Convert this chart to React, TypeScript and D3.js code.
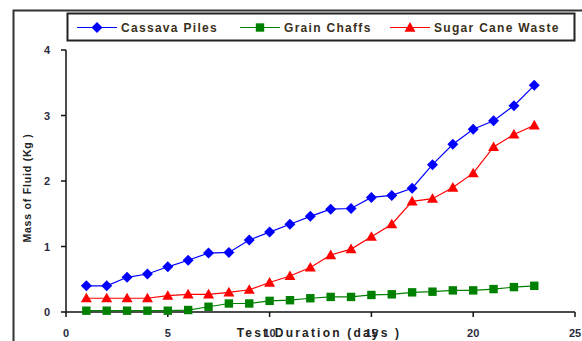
import React from "react";
import * as d3 from "d3";

const days = [1,2,3,4,5,6,7,8,9,10,11,12,13,14,15,16,17,18,19,20,21,22,23];
const cassava = [0.40,0.40,0.53,0.58,0.69,0.79,0.90,0.91,1.10,1.22,1.34,1.46,1.57,1.58,1.75,1.78,1.89,2.25,2.56,2.79,2.92,3.15,3.46];
const grain = [0.02,0.02,0.02,0.02,0.02,0.03,0.08,0.13,0.13,0.17,0.18,0.21,0.23,0.23,0.26,0.27,0.30,0.31,0.33,0.33,0.35,0.38,0.40];
const sugar = [0.21,0.21,0.21,0.21,0.25,0.27,0.27,0.30,0.34,0.45,0.55,0.68,0.87,0.96,1.15,1.34,1.69,1.73,1.90,2.12,2.52,2.71,2.85];
const xTicks = [0,5,10,15,20,25];
const yTicks = [0,1,2,3,4];
const seriesNames = ["Cassava Piles","Grain Chaffs","Sugar Cane Waste"];
const seriesColors = ["#0000ff","#008000","#ff0000"];

const W = 582, H = 341;
const font = "'Liberation Sans', Arial, sans-serif";

function Marker({ kind, x, y, color }: { kind: number; x: number; y: number; color: string }) {
  if (kind === 0) {
    const s = 5.5;
    return <path d={`M${x},${y - s}L${x + s},${y}L${x},${y + s}L${x - s},${y}Z`} fill={color} />;
  }
  if (kind === 1) {
    const s = 4.2;
    return <rect x={x - s} y={y - s} width={2 * s} height={2 * s} fill={color} />;
  }
  const s = 5.5;
  return <path d={`M${x},${y - s}L${x + s},${y + s * 0.75}L${x - s},${y + s * 0.75}Z`} fill={color} />;
}

export default function App() {
  const x = d3.scaleLinear().domain([0, 25]).range([66, 575]);
  const y = d3.scaleLinear().domain([0, 4]).range([312, 50]);
  const data = [cassava, grain, sugar];
  const line = d3.line<number>().x((_, i) => x(days[i])).y((d) => y(d));
  const legendX = [77, 240, 390];

  return (
    <svg width={W} height={H} style={{ position: "absolute", left: 0, top: 0, background: "#fff" }} fontFamily={font}>
      <rect x={0} y={0} width={W} height={H} fill="#fff" />
      {/* outer frame */}
      <path d={`M13.5,${H + 2}V10.5H${W + 2}`} fill="none" stroke="#333" strokeWidth={2} />
      {/* legend */}
      <rect x={67.5} y={13.5} width={507} height={27} fill="#fff" stroke="#222" strokeWidth={2} />
      {seriesNames.map((n, i) => (
        <g key={n}>
          <line x1={legendX[i]} x2={legendX[i] + 40} y1={27.5} y2={27.5} stroke={seriesColors[i]} strokeWidth={1.2} />
          <Marker kind={i} x={legendX[i] + 20} y={27.5} color={seriesColors[i]} />
          <text x={legendX[i] + 44} y={31.5} fontSize={12} fontWeight="bold" fill="#3a3020" letterSpacing={1.3}>{n}</text>
        </g>
      ))}
      {/* axes */}
      <line x1={66} x2={66} y1={y(4)} y2={y(0) + 0.5} stroke="#111" strokeWidth={1.5} />
      <line x1={66} x2={575} y1={y(0)} y2={y(0)} stroke="#111" strokeWidth={1.5} />
      {yTicks.map((t) => (
        <g key={"y" + t}>
          <line x1={61} x2={66} y1={y(t)} y2={y(t)} stroke="#111" strokeWidth={1.5} />
          <text x={50} y={y(t) + 4} textAnchor="end" fontSize={11} fontWeight="bold" fill="#2a2a40">{t}</text>
        </g>
      ))}
      {xTicks.map((t) => (
        <g key={"x" + t}>
          <line x1={x(t)} x2={x(t)} y1={312} y2={317} stroke="#111" strokeWidth={1.5} />
          <text x={x(t)} y={337} textAnchor="middle" fontSize={11} fontWeight="bold" fill="#2a2a40">{t}</text>
        </g>
      ))}
      {/* series */}
      {data.map((vals, i) => (
        <g key={"s" + i}>
          <path d={line(vals) || ""} fill="none" stroke={seriesColors[i]} strokeWidth={1.2} />
          {vals.map((v, j) => (
            <Marker key={j} kind={i} x={x(days[j])} y={y(v)} color={seriesColors[i]} />
          ))}
        </g>
      ))}
      {/* axis titles */}
      <text x={319} y={337} textAnchor="middle" fontSize={12} fontWeight="bold" fill="#222" letterSpacing={2.2}>Test Duration (days )</text>
      <text transform={`translate(31,188) rotate(-90)`} textAnchor="middle" fontSize={10.5} fontWeight="bold" fill="#222" letterSpacing={0.8}>Mass of Fluid (Kg )</text>
    </svg>
  );
}
